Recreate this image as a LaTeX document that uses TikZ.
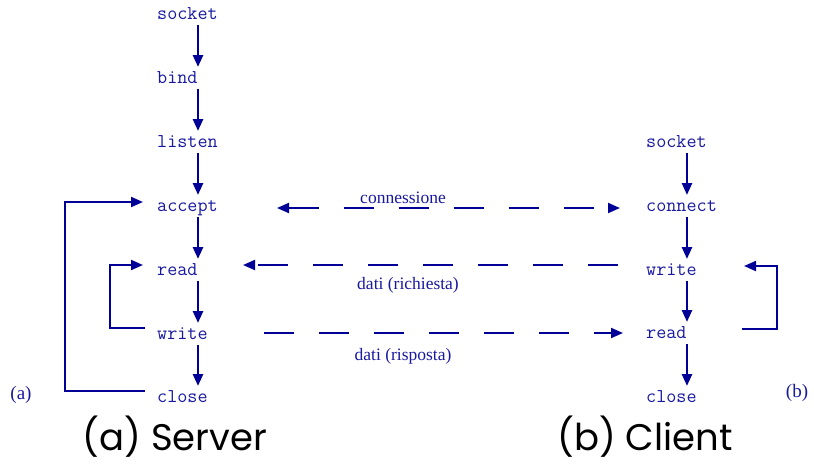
\documentclass[tikz,border=0pt]{standalone}
\usepackage{fontspec}
\setmainfont{Liberation Serif}
\newfontfamily\titlefont{Poppins}
\usetikzlibrary{arrows.meta}

\definecolor{flowblue}{RGB}{0,0,150}
\definecolor{labelblue}{RGB}{25,25,160}

\tikzset{
  call/.style={anchor=base west, inner sep=0pt, text=labelblue,
    font=\ttfamily\fontsize{19.6}{22}\selectfont},
  note/.style={anchor=base, inner sep=0pt, text=labelblue,
    font=\fontsize{17.5}{20}\selectfont},
  sidetag/.style={note, font=\fontsize{19}{22}\selectfont},
  caption/.style={anchor=base, inner sep=0pt, text=black,
    font=\titlefont\fontsize{37}{40}\selectfont},
  tip/.style={-{Triangle[length=12pt,width=10pt]}},
  stepflow/.style={tip, draw=flowblue, line width=2.6pt},
  loopline/.style={tip, draw=flowblue, line width=2pt},
  msgline/.style={draw=flowblue, line width=2pt, dash pattern=on 30pt off 25pt},
}

\begin{document}
\begin{tikzpicture}[x=1pt,y=-1pt]
  \useasboundingbox (0,0) rectangle (814,464);

  % server side calls
  \node[call] (sSocket) at (157,19)  {socket};
  \node[call] (sBind)   at (157,83)  {bind};
  \node[call] (sListen) at (157,147) {listen};
  \node[call] (sAccept) at (157,211) {accept};
  \node[call] (sRead)   at (157,275) {read};
  \node[call] (sWrite)  at (157,339) {write};
  \node[call] (sClose)  at (157,402) {close};

  % client side calls
  \node[call] (cSocket)  at (646,147) {socket};
  \node[call] (cConnect) at (646,211) {connect};
  \node[call] (cWrite)   at (646,275) {write};
  \node[call] (cRead)    at (646,338) {read};
  \node[call] (cClose)   at (646,402) {close};

  % sequence arrows, server
  \foreach \a/\b in {sSocket/sBind, sBind/sListen, sListen/sAccept,
                     sAccept/sRead, sRead/sWrite, sWrite/sClose}
    \draw[stepflow] ([xshift=41pt,yshift=-6pt]\a.base west)
                 -- ([xshift=41pt,yshift=16pt]\b.base west);

  % sequence arrows, client
  \foreach \a/\b in {cSocket/cConnect, cConnect/cWrite,
                     cWrite/cRead, cRead/cClose}
    \draw[stepflow] ([xshift=41pt,yshift=-6pt]\a.base west)
                 -- ([xshift=41pt,yshift=16pt]\b.base west);

  % server loops
  \draw[loopline] ([xshift=-12pt,yshift=11pt]sClose.base west)
     -- ++(-80,0) |- ([xshift=-14pt,yshift=9pt]sAccept.base west);
  \draw[loopline] ([xshift=-12pt,yshift=11pt]sWrite.base west)
     -- ++(-35,0) |- ([xshift=-14pt,yshift=10pt]sRead.base west);

  % client loop
  \draw[loopline] ([xshift=96pt,yshift=9pt]cRead.base west)
     -- ++(35,0) |- ([xshift=98pt,yshift=9pt]cWrite.base west);

  % messages between the two sides
  \draw[msgline, {Triangle[length=12pt,width=10pt]}-{Triangle[length=12pt,width=10pt]}]
    ([xshift=120pt,yshift=3pt]sAccept.base west)
    -- ([xshift=-26pt,yshift=3pt]cConnect.base west);
  \draw[msgline, -{Triangle[length=12pt,width=10pt]}]
    ([xshift=-28pt,yshift=10pt]cWrite.base west)
    -- ([xshift=86pt,yshift=10pt]sRead.base west);
  \draw[msgline, -{Triangle[length=12pt,width=10pt]}]
    ([xshift=107pt,yshift=6pt]sWrite.base west)
    -- ([xshift=-23pt,yshift=5pt]cRead.base west);

  \node[note] (lConn) at (403,203) {connessione};
  \node[note] (lReq)  at (408,289) {dati (richiesta)};
  \node[note] (lResp) at (403,360) {dati (risposta)};

  \node[sidetag] (tagA) at (21,399) {(a)};
  \node[sidetag] (tagB) at (797,397) {(b)};

  \node[caption] (capA) at (175,450) {(a) Server};
  \node[caption] (capB) at (645,450) {(b) Client};
\end{tikzpicture}
\end{document}
